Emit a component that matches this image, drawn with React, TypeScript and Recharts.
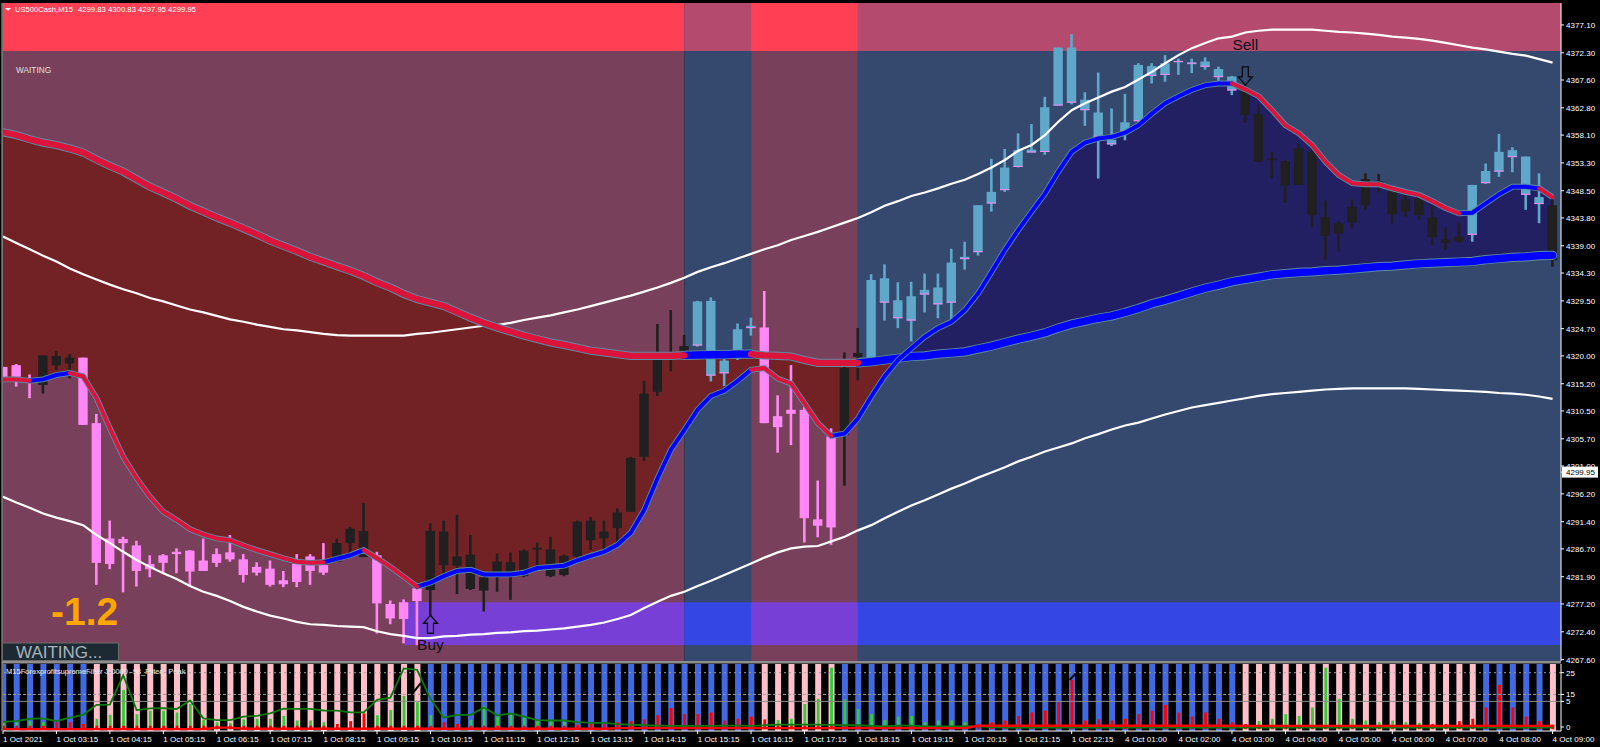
import React from 'react';
import { ComposedChart, Area, Bar, Line, XAxis, YAxis, ReferenceArea, ReferenceLine, ReferenceDot } from 'recharts';

const highs = [4318.1,4318.6,4316.8,4320.1,4320.8,4320.3,4319.7,4310.0,4291.6,4288.8,
4288.1,4285.6,4285.8,4286.8,4286.5,4288.5,4286.8,4289.1,4285.8,4284.4,
4284.7,4282.9,4285.8,4285.8,4287.7,4288.5,4290.5,4294.6,4286.2,4277.8,
4278.0,4280.1,4291.1,4291.6,4292.6,4289.1,4281.9,4285.9,4286.1,4286.6,
4287.8,4288.8,4285.7,4291.6,4292.2,4291.6,4293.7,4302.6,4315.7,4325.5,
4327.9,4323.6,4329.5,4330.1,4319.6,4325.6,4326.6,4331.2,4313.2,4318.4,
4311.2,4298.5,4307.5,4320.6,4324.8,4334.1,4335.8,4332.7,4332.8,4334.2,
4334.2,4338.5,4339.7,4346.0,4354.0,4355.7,4358.4,4360.0,4364.7,4373.2,
4375.5,4365.5,4368.9,4362.7,4365.2,4370.5,4370.5,4371.9,4371.3,4371.3,
4371.5,4369.9,4368.3,4366.7,4363.3,4355.2,4353.8,4356.7,4355.8,4346.8,
4343.3,4347.0,4351.5,4351.4,4349.3,4347.8,4348.1,4346.0,4342.2,4343.0,
4349.5,4353.2,4358.3,4356.0,4354.4,4351.5,4346.9];
const bodyTops = [4318.1,4318.4,4316.1,4320.1,4320.0,4319.7,4319.7,4308.4,4288.5,4288.4,
4287.3,4284.1,4285.6,4286.2,4286.4,4284.7,4285.8,4286.1,4284.9,4283.6,
4283.3,4281.3,4284.1,4285.4,4283.9,4287.7,4290.2,4289.8,4285.6,4277.2,
4277.5,4279.9,4289.8,4289.7,4285.4,4285.7,4281.8,4284.5,4284.4,4286.4,
4286.9,4286.6,4285.5,4291.4,4291.6,4289.7,4293.0,4302.4,4313.5,4320.4,
4320.5,4321.7,4329.4,4329.5,4319.2,4324.6,4325.2,4324.9,4309.6,4310.7,
4310.7,4291.8,4306.1,4317.9,4320.5,4333.1,4333.4,4329.6,4330.3,4331.4,
4331.8,4336.1,4337.1,4346.0,4348.3,4352.5,4355.5,4355.6,4362.9,4373.2,
4373.2,4364.2,4362.0,4357.3,4360.3,4370.2,4370.0,4370.5,4370.9,4370.6,
4370.8,4369.5,4368.2,4366.2,4361.7,4354.0,4353.6,4355.8,4355.2,4344.0,
4342.9,4345.7,4350.5,4350.1,4348.5,4347.0,4347.2,4343.9,4340.1,4340.6,
4349.5,4351.9,4355.2,4355.5,4354.4,4347.4,4346.0];
const bodyBottoms = [4316.3,4316.4,4315.8,4315.0,4318.4,4318.7,4308.1,4284.3,4284.1,4287.7,
4282.9,4283.2,4284.3,4285.8,4282.8,4282.9,4284.3,4284.9,4282.2,4282.6,
4280.5,4280.6,4281.0,4282.9,4282.6,4284.5,4287.7,4285.3,4277.3,4274.7,
4274.6,4277.7,4279.6,4283.9,4283.8,4279.8,4279.5,4281.9,4281.9,4282.0,
4286.6,4282.0,4282.2,4285.4,4288.2,4288.5,4290.3,4293.1,4302.6,4313.8,
4319.6,4320.9,4321.8,4316.6,4317.0,4319.6,4324.8,4308.4,4307.7,4310.0,
4292.0,4290.7,4290.4,4306.4,4319.8,4319.0,4329.2,4326.5,4326.1,4330.6,
4328.9,4329.2,4336.7,4337.9,4346.3,4348.6,4352.6,4355.1,4355.2,4363.2,
4363.7,4362.4,4357.8,4356.5,4358.7,4360.5,4368.3,4368.5,4370.8,4370.5,
4369.9,4368.1,4365.8,4361.6,4353.5,4353.8,4349.4,4349.5,4344.3,4340.7,
4341.1,4343.0,4346.0,4349.7,4344.4,4344.9,4344.3,4340.5,4339.5,4339.7,
4340.9,4349.8,4351.8,4354.3,4347.8,4346.2,4336.5];
const lows = [4316.3,4314.7,4312.7,4313.5,4317.6,4316.1,4308.1,4280.5,4283.2,4279.2,
4280.2,4281.8,4282.5,4282.5,4280.2,4282.9,4283.6,4284.5,4280.9,4282.1,
4280.2,4280.1,4280.1,4280.5,4282.2,4284.5,4285.9,4285.3,4272.1,4273.7,
4270.4,4270.1,4275.3,4282.2,4278.9,4279.6,4275.9,4279.3,4277.9,4281.8,
4283.6,4281.8,4282.0,4284.8,4286.5,4286.5,4287.7,4293.1,4301.9,4313.1,
4317.3,4320.4,4321.6,4315.6,4314.8,4319.3,4323.5,4308.4,4303.3,4304.6,
4287.8,4288.7,4287.4,4297.6,4315.8,4318.8,4326.1,4324.8,4322.5,4327.5,
4326.5,4326.2,4334.9,4337.3,4344.9,4348.3,4352.5,4355.1,4354.7,4363.2,
4363.4,4359.7,4350.6,4356.2,4357.2,4360.4,4367.0,4367.3,4368.5,4368.8,
4369.4,4367.3,4365.0,4360.2,4353.5,4350.6,4346.4,4349.5,4342.3,4336.5,
4338.0,4342.0,4345.3,4348.2,4342.9,4344.0,4343.5,4339.1,4338.4,4339.5,
4339.7,4349.7,4350.9,4351.7,4345.2,4342.9,4335.4];
const fastLine = [4315.95,4315.95,4315.7,4315.95,4316.7,4317.05,4316.5,4312.7,4307.5,4302.6,
4298.9,4295.7,4293.1,4291.7,4290.1,4289.2,4288.5,4288.2,4287.3,4286.5,
4285.8,4285.1,4284.5,4284.3,4284.4,4285.0,4285.6,4286.5,4285.1,4283.6,
4281.9,4280.2,4280.9,4282.0,4282.9,4283.1,4282.3,4282.3,4282.3,4282.6,
4283.4,4283.6,4283.8,4284.7,4285.5,4286.2,4287.4,4289.5,4293.4,4298.9,
4303.8,4307.2,4310.7,4313.1,4314.0,4315.7,4317.6,4317.9,4316.1,4315.2,
4311.8,4308.4,4306.2,4306.6,4309.2,4313.0,4316.5,4319.3,4321.3,4323.3,
4324.8,4325.9,4327.9,4330.8,4334.5,4338.3,4341.7,4344.9,4348.0,4351.8,
4355.2,4356.8,4357.5,4357.8,4358.5,4359.8,4361.8,4363.6,4364.8,4365.9,
4366.7,4367.0,4367.0,4366.0,4364.8,4362.4,4359.8,4358.4,4356.4,4353.5,
4351.2,4349.8,4349.6,4349.6,4348.9,4348.3,4347.8,4346.7,4345.5,4344.6,
4344.7,4346.3,4347.9,4349.2,4349.2,4348.9,4347.4];
const slowLine = [4358.6,4358.1,4357.4,4356.8,4356.4,4355.8,4355.1,4353.9,4352.8,4351.8,
4350.5,4349.2,4348.2,4347.1,4345.9,4344.9,4343.9,4343.0,4342.0,4341.0,
4339.9,4339.0,4338.1,4337.1,4336.3,4335.5,4334.7,4333.8,4332.7,4331.8,
4330.7,4329.8,4329.2,4328.6,4327.6,4326.6,4325.7,4324.9,4324.2,4323.5,
4322.9,4322.3,4321.9,4321.4,4320.9,4320.6,4320.3,4320.0,4320.0,4320.0,
4320.0,4320.1,4320.15,4320.2,4320.2,4320.3,4320.3,4320.1,4320.0,4319.9,
4319.3,4318.8,4318.8,4318.8,4318.8,4319.0,4319.3,4319.6,4319.9,4320.0,
4320.3,4320.5,4320.7,4321.2,4321.7,4322.3,4322.9,4323.4,4324.0,4324.8,
4325.5,4326.0,4326.5,4326.9,4327.5,4328.2,4329.0,4329.6,4330.3,4331.0,
4331.7,4332.2,4332.8,4333.2,4333.6,4334.0,4334.2,4334.4,4334.5,4334.7,
4334.8,4335.0,4335.2,4335.4,4335.5,4335.7,4335.9,4336.0,4336.1,4336.2,
4336.3,4336.6,4336.8,4337.0,4337.1,4337.3,4337.35];
const upperBand = [4340.6,4339.5,4338.4,4337.3,4336.3,4335.1,4334.1,4333.2,4332.3,4331.5,
4330.8,4330.0,4329.4,4328.7,4328.0,4327.5,4326.9,4326.3,4325.9,4325.4,
4325.0,4324.6,4324.4,4324.1,4323.8,4323.6,4323.5,4323.5,4323.5,4323.5,
4323.5,4323.8,4324.0,4324.3,4324.6,4324.9,4325.2,4325.3,4325.7,4326.2,
4326.6,4327.0,4327.5,4328.0,4328.6,4329.2,4329.8,4330.4,4331.1,4331.8,
4332.6,4333.5,4334.5,4335.3,4336.0,4336.8,4337.6,4338.4,4339.1,4340.0,
4340.7,4341.4,4342.2,4343.0,4343.8,4344.8,4345.9,4346.7,4347.6,4348.2,
4348.9,4349.7,4350.4,4351.4,4352.5,4353.8,4355.4,4356.4,4358.1,4360.4,
4362.4,4363.6,4364.6,4365.6,4366.4,4367.7,4369.0,4370.5,4371.9,4373.1,
4374.0,4374.8,4375.1,4375.8,4376.1,4376.3,4376.3,4376.3,4376.3,4376.1,
4375.9,4375.8,4375.6,4375.4,4375.1,4374.9,4374.7,4374.4,4374.0,4373.6,
4373.2,4372.9,4372.5,4372.1,4371.8,4371.2,4370.6];
const lowerBand = [4295.7,4294.7,4293.8,4292.8,4292.1,4291.5,4290.8,4289.1,4287.7,4286.2,
4284.8,4283.6,4282.5,4281.5,4280.3,4279.3,4278.6,4277.7,4276.7,4275.9,
4275.2,4274.7,4274.1,4273.7,4273.6,4273.4,4273.3,4273.2,4272.5,4272.0,
4271.7,4271.3,4271.3,4271.6,4271.7,4271.9,4272.0,4272.2,4272.3,4272.5,
4272.6,4272.8,4273.0,4273.3,4273.6,4274.0,4274.6,4275.3,4276.5,4277.6,
4278.6,4279.3,4280.3,4281.2,4282.2,4283.2,4284.2,4285.2,4286.1,4286.8,
4287.1,4287.2,4288.0,4288.8,4289.9,4290.8,4292.0,4293.1,4294.2,4295.1,
4296.1,4297.1,4298.0,4299.0,4299.9,4300.8,4301.8,4302.6,4303.5,4304.2,
4304.9,4305.8,4306.5,4307.3,4308.0,4308.5,4309.2,4309.9,4310.5,4311.1,
4311.5,4311.9,4312.3,4312.7,4313.1,4313.4,4313.6,4313.8,4314.0,4314.2,
4314.3,4314.4,4314.4,4314.4,4314.4,4314.4,4314.3,4314.2,4314.1,4314.0,
4313.9,4313.8,4313.6,4313.5,4313.3,4313.0,4312.6];

// [firstBar, lastBar] runs of each colour
const candlePinkRuns = [[0,2],[6,24],[28,31],[57,62]];
const candleBlueRuns = [[52,56],[65,92],[110,115]];
const fastRedRuns = [[0,2],[5,24],[27,31],[56,62],[92,109],[115,116]];
const fastBlueRuns = [[2,5],[24,27],[31,56],[62,92],[109,115]];
const slowRedRuns = [[0,51],[56,64]];
const slowBlueRuns = [[51,56],[64,116]];
const fillRedRun = [0, 67];
const fillBlueRun = [67, 116];
const subPinkRuns = [[7,31],[57,62],[93,110],[116,116]];

const zoneEdges = [0, 51, 56, 64, 116.63];
const zoneColors = ['#78405A', '#35496F', '#78405A', '#35496F'];
const topBandColors = ['#FF4054', '#B44A6E', '#FF4054', '#B44A6E'];
const bottomBandColors = ['#783FD6', '#3447E5', '#783FD6', '#3447E5'];
const topBand = [4372.6, 4380.89];
const bottomBand = [4270.1, 4277.5];
const bottomBandStart = 30.1;

const priceTicks = [4377.1,4372.3,4367.6,4362.8,4358.1,4353.3,4348.5,4343.8,4339.0,4334.3,4329.5,4324.7,4320.0,4315.2,4310.5,4305.7,4301.0,4296.2,4291.4,4286.7,4281.9,4277.2,4272.4,4267.6,4299.95];
const currentPrice = 4299.95;

const histGreen = [2.7,2.2,2.7,2.2,0,0,0,3.8,5.6,17.0,
5.9,7.5,7.5,6.7,10.6,3.2,2.2,1.9,3.5,3.8,
3.8,5.1,3.0,3.0,2.2,0,0,0,5.4,7.8,
14.3,11.4,5.4,0,0,3.2,9.8,4.8,5.9,4.8,
2.7,2.7,2.4,0,0,0,0,0,0,0,
0,0,0,0,0,0,0,0,3.2,3.8,
10.6,13.0,27.3,12.7,8.3,5.9,3.2,4.8,5.1,2.2,
3.0,3.0,2.2,0,0,0,0,0,0,0,
0,0,0,0,0,0,0,0,0,0,
0,0,0,0,2.7,3.8,5.9,5.1,9.0,27.3,
13.0,3.8,3.0,2.2,3.0,2.2,1.9,0,0,0,
0,0,0,0,0,0,0];
const histRed = [0.6,0.6,0.6,0.6,2.2,2.2,1.4,0.6,0.6,0.6,
0.6,0.6,0.6,0.6,0.6,0.6,0.6,0.6,0.6,0.6,
0.6,0.6,0.6,0.6,0.6,1.4,2.7,6.3,0.6,0.6,
0.6,0.6,0.6,2.2,1.4,0.6,0.6,0.6,0.6,0.6,
0.6,0.6,0.6,1.1,1.4,1.4,2.2,2.7,3.5,5.4,
8.7,5.9,5.9,6.7,3.0,3.8,4.8,3.5,0.6,0.6,
0.6,0.6,0.6,0.6,0.6,0.6,0.6,0.6,0.6,0.6,
0.6,0.6,0.6,1.4,2.2,3.0,5.1,6.7,7.5,11.4,
21.7,3.0,3.5,3.0,3.8,5.9,7.5,10.2,6.7,4.8,
6.7,3.8,2.2,1.4,0.6,0.6,0.6,0.6,0.6,0.6,
0.6,0.6,0.6,0.6,0.6,0.6,0.6,1.4,1.4,2.7,
3.8,9.0,19.4,9.0,4.8,2.7,1.1];
const signalLine = [2.4,2.7,3.8,4.0,2.7,4.3,5.6,10.2,10.3,23.8,
7.8,8.6,8.7,8.3,12.2,4.0,3.2,3.2,4.8,5.1,
6.3,8.4,8.3,8.3,7.6,7.5,6.7,6.7,12.5,13.5,
27.0,26.3,13.0,4.3,5.6,5.6,9.0,5.4,6.2,4.8,
3.2,3.0,3.0,2.2,1.9,1.9,1.3,1.1,0.8,0.6,
0.5,0.5,0.5,0.5,0.6,0.6,0.5,0.8,1.1,1.1,
1.1,1.1,1.0,0.8,0.8,0.5,0.3,0.6,0.6,0.3,
0.3,0.3,0.3,0.3,0,-0.3,-0.3,-0.3,-0.3,-0.3,
-0.3,-0.3,-0.3,-0.3,-0.3,-0.3,-0.3,-0.3,-0.3,-0.3,
-0.3,-0.3,-0.3,-0.3,-0.3,-0.3,-0.3,-0.3,-0.3,-0.3,
-0.3,-0.3,-0.3,-0.3,-0.3,-0.3,-0.3,-0.3,-0.3,-0.3,
-0.3,-0.3,-0.3,-0.3,-0.3,-0.3,-0.3];
const baseLine = [-1,-1,-1,-1,-1,-1,-1,-1,-1,-1,-1,-1,-1,-1,-1,-1,-0.3,-0.3,-0.8,-0.8,
-0.8,-0.8,-0.8,-0.8,-0.8,-0.8,-0.8,-0.8,-0.8,-0.8,-0.8,-0.8,-0.8,-0.8,-0.8,-0.8,-0.8,-0.8,-0.8,-0.8,
-0.8,-0.8,-0.8,-0.8,-0.8,-0.8,-0.5,-0.5,-0.5,-0.5,-0.5,-0.5,-0.5,-0.5,-0.5,-0.5,-0.5,-0.5,-0.5,-0.5,
-0.5,-0.5,-0.5,-0.5,-0.5,-0.5,-0.5,-0.5,-0.5,-0.5,-0.5,-0.5,-0.5,0.6,0.6,0.6,0.6,0.6,0.6,0.6,
0.6,0.6,0.6,0.6,0.6,0.6,0.6,0.6,0.6,0.6,0.6,0.6,0.6,0.5,0.5,0.5,0.5,0.5,0.5,0.5,
0.5,0.5,0.5,0.5,0.5,0.5,0.5,0.5,0.5,0.5,0.5,0.5,0.5,0.5,0.5,0.5,0.5];

const subTickValues = [25, 15, 11.8, 0];
const subTickLabels = ['25', '15', '5', '0'];
const timeLabels = ['1 Oct 2021','1 Oct 03:15','1 Oct 04:15','1 Oct 05:15','1 Oct 06:15','1 Oct 07:15','1 Oct 08:15','1 Oct 09:15','1 Oct 10:15','1 Oct 11:15','1 Oct 12:15','1 Oct 13:15','1 Oct 14:15','1 Oct 15:15','1 Oct 16:15','1 Oct 17:15','1 Oct 18:15','1 Oct 19:15','1 Oct 20:15','1 Oct 21:15','1 Oct 22:15','4 Oct 01:00','4 Oct 02:00','4 Oct 03:00','4 Oct 04:00','4 Oct 05:00','4 Oct 06:00','4 Oct 07:00','4 Oct 08:00','4 Oct 09:00'];
const timeTicks = timeLabels.map((_, k) => k * 4);

const X_DOMAIN: [number, number] = [0, 116.63];
const SUB_TOP = 29;
const HIST_BASE = -1;
const FONT = '"Liberation Sans", Arial, sans-serif';

const inRuns = (runs: number[][], i: number) => runs.some(([a, b]) => i >= a && i <= b);

const mainData = highs.map((h, i) => ({
  i,
  high: h,
  bodyTop: bodyTops[i],
  bodyBottom: bodyBottoms[i],
  low: lows[i],
  kind: inRuns(candlePinkRuns, i) ? 'pink' : inRuns(candleBlueRuns, i) ? 'blue' : 'black',
  fast: fastLine[i],
  slow: slowLine[i],
  fastRed: inRuns(fastRedRuns, i) ? fastLine[i] : null,
  fastBlue: inRuns(fastBlueRuns, i) ? fastLine[i] : null,
  slowRed: inRuns(slowRedRuns, i) ? slowLine[i] : null,
  slowBlue: inRuns(slowBlueRuns, i) ? slowLine[i] : null,
  fillRed: inRuns([fillRedRun], i) ? [fastLine[i], slowLine[i]] : null,
  fillBlue: inRuns([fillBlueRun], i) ? [slowLine[i], fastLine[i]] : null,
  upper: upperBand[i],
  lower: lowerBand[i],
}));

const subData = histGreen.map((g, i) => ({
  i,
  bg: [HIST_BASE - 1, SUB_TOP],
  pink: inRuns(subPinkRuns, i),
  green: g > 0 ? [HIST_BASE, g] : null,
  red: [HIST_BASE, histRed[i]],
  signal: signalLine[i],
  base: baseLine[i],
}));

const CANDLE_FILL: Record<string, string> = { pink: '#FF88F6', blue: '#60A8C9', black: '#202020' };

function Candle(props: any) {
  const { x, y, width, height, payload } = props;
  if (!payload || !height) return null;
  const ratio = height / (payload.high - payload.low);
  const cx = x + width / 2;
  const top = y + (payload.high - payload.bodyTop) * ratio;
  const bottom = y + (payload.high - payload.bodyBottom) * ratio;
  const fill = CANDLE_FILL[payload.kind];
  return (
    <g>
      <rect x={cx - 1.3} y={y} width={2.6} height={height} fill={fill} />
      <rect x={x - 0.2} y={top} width={width + 0.4} height={Math.max(bottom - top, 1.5)} fill={fill} />
      {payload.kind === 'blue' && <rect x={x - 0.2} y={Math.max(bottom - 1, top)} width={width + 0.4} height={1} fill="#FF88F6" />}
    </g>
  );
}

function SubBackground(props: any) {
  const { x, y, width, height, payload } = props;
  return <rect x={x} y={y} width={width} height={height} fill={payload.pink ? '#FFC0CB' : '#4169E1'} />;
}
function Thin(fill: string) {
  return (props: any) => {
    const { x, y, width, height } = props;
    if (!height) return null;
    return <rect x={x + width / 2 - 1.4} y={y} width={2.8} height={height} fill={fill} />;
  };
}

function PriceTick(props: any) {
  const { x, y, payload } = props;
  if (payload.value === currentPrice) {
    return (
      <g>
        <rect x={x - 4} y={y - 5.5} width={36} height={11} fill="#fff" />
        <text x={x} y={y + 3} fontSize={8} fontFamily={FONT} fill="#000">{payload.value.toFixed(2)}</text>
      </g>
    );
  }
  return <text x={x} y={y + 3} fontSize={8} fontFamily={FONT} fill="#fff" letterSpacing={0.05}>{payload.value.toFixed(2)}</text>;
}
function SubTick(props: any) {
  const { x, y, payload } = props;
  const label = subTickLabels[subTickValues.indexOf(payload.value)];
  return <text x={x} y={y + 3} fontSize={8} fontFamily={FONT} fill="#fff">{label}</text>;
}
function TimeTick(props: any) {
  const { x, y, payload } = props;
  const label = timeLabels[timeTicks.indexOf(payload.value)];
  return <text x={x} y={y + 8} fontSize={8} fontFamily={FONT} fill="#fff" letterSpacing={0.05}>{label}</text>;
}

function arrowShape(dir: 'up' | 'down') {
  return (p: any) => {
    const { cx, cy } = p;
    const s = dir === 'up' ? 1 : -1;
    const pts = [[0,-9],[7,-1],[3,-1],[3,9],[-3,9],[-3,-1],[-7,-1]]
      .map(([a, b]) => `${cx + a},${cy + s * b}`).join(' ');
    return <polygon points={pts} fill="none" stroke="#0A0A14" strokeWidth={1.3} />;
  };
}
function textShape(label: string) {
  return (p: any) => (
    <text x={p.cx} y={p.cy + 5} textAnchor="middle" fontSize={15.5} fontFamily={FONT} fill="#101018">{label}</text>
  );
}

const zones = zoneColors.map((c, k) => ({ from: zoneEdges[k], to: zoneEdges[k + 1], c, top: topBandColors[k], bottom: bottomBandColors[k] }));

const lineCommon = { dot: false, activeDot: false, isAnimationActive: false, type: 'linear' as const, connectNulls: false };

export default function App() {
  return (
    <div style={{ position: 'absolute', left: 0, top: 0, width: 1600, height: 747, background: '#000', overflow: 'hidden' }}>
      <div style={{ position: 'absolute', left: 0, top: 0 }}>
        <ComposedChart width={1600} height={680} data={mainData} margin={{ top: 3, right: 0, bottom: 19, left: 3 }} barGap={0}>
          <XAxis type="number" dataKey="i" domain={X_DOMAIN} allowDataOverflow hide />
          <YAxis orientation="right" width={39} type="number" domain={[4267.36, 4380.89]} allowDataOverflow ticks={priceTicks} interval={0}
            tick={<PriceTick />} tickSize={3} tickMargin={2} stroke="#fff" tickLine={{ stroke: '#fff' }} axisLine={{ stroke: '#fff' }} />
          {zones.map((z, k) => (
            <ReferenceArea key={`z${k}`} x1={z.from} x2={z.to} fill={z.c} fillOpacity={1} stroke="none" ifOverflow="hidden" />
          ))}
          {zones.map((z, k) => (
            <ReferenceArea key={`t${k}`} x1={z.from} x2={z.to} y1={topBand[0]} y2={topBand[1]} fill={z.top} fillOpacity={1} stroke="none" ifOverflow="hidden" />
          ))}
          {zones.map((z, k) => (
            <ReferenceArea key={`b${k}`} x1={Math.max(z.from, bottomBandStart)} x2={z.to} y1={bottomBand[0]} y2={bottomBand[1]} fill={z.bottom} fillOpacity={1} stroke="none" ifOverflow="hidden" />
          ))}
          <Area dataKey="fillRed" type="linear" stroke="none" fill="#722224" fillOpacity={1} isAnimationActive={false} dot={false} activeDot={false} connectNulls={false} />
          <Area dataKey="fillBlue" type="linear" stroke="none" fill="#231F63" fillOpacity={1} isAnimationActive={false} dot={false} activeDot={false} connectNulls={false} />
          <Bar dataKey={(d: any) => [d.low, d.high]} barSize={9} shape={<Candle />} isAnimationActive={false} />
          <Line dataKey="upper" stroke="#fff" strokeWidth={2.2} {...lineCommon} />
          <Line dataKey="lower" stroke="#fff" strokeWidth={2.2} {...lineCommon} />
          <Line dataKey="slowRed" stroke="#5A8CA4" strokeWidth={8.2} strokeLinecap="round" {...lineCommon} />
          <Line dataKey="slowBlue" stroke="#5A8CA4" strokeWidth={9.2} strokeLinecap="round" {...lineCommon} />
          <Line dataKey="slowBlue" stroke="#0000FF" strokeWidth={7.4} strokeLinecap="round" {...lineCommon} />
          <Line dataKey="slowRed" stroke="#DC143C" strokeWidth={6.2} strokeLinecap="round" {...lineCommon} />
          <Line dataKey="fast" stroke="#5A8CA4" strokeWidth={5.8} {...lineCommon} />
          <Line dataKey="fastBlue" stroke="#0000FF" strokeWidth={4} strokeLinecap="round" {...lineCommon} />
          <Line dataKey="fastRed" stroke="#DC143C" strokeWidth={4} strokeLinecap="round" {...lineCommon} />
          <ReferenceDot x={32} y={4273.7} r={1} shape={arrowShape('up')} ifOverflow="visible" />
          <ReferenceDot x={93} y={4368.3} r={1} shape={arrowShape('down')} ifOverflow="visible" />
          <ReferenceDot x={32} y={4270.2} r={1} shape={textShape('Buy')} ifOverflow="visible" />
          <ReferenceDot x={93} y={4373.6} r={1} shape={textShape('Sell')} ifOverflow="visible" />
        </ComposedChart>
      </div>
      <div style={{ position: 'absolute', left: 0, top: 662 }}>
        <ComposedChart width={1600} height={85} data={subData} margin={{ top: 2, right: 0, bottom: 0, left: 3 }} barGap={-6}>
          <XAxis type="number" dataKey="i" domain={X_DOMAIN} allowDataOverflow ticks={timeTicks} interval={0} height={16}
            tick={<TimeTick />} tickSize={3} tickMargin={0} stroke="#fff" tickLine={{ stroke: '#fff' }} axisLine={{ stroke: '#fff' }} />
          <YAxis orientation="right" width={39} type="number" domain={[-1.84, SUB_TOP]} allowDataOverflow ticks={subTickValues} interval={0}
            tick={<SubTick />} tickSize={3} tickMargin={2} stroke="#fff" tickLine={{ stroke: '#fff' }} axisLine={{ stroke: '#fff' }} />
          <Bar dataKey="bg" barSize={6} shape={<SubBackground />} isAnimationActive={false} />
          <Bar dataKey="green" barSize={6} shape={Thin('#32CD32')} isAnimationActive={false} />
          <Bar dataKey="red" barSize={6} shape={Thin('#FF0000')} isAnimationActive={false} />
          <ReferenceLine y={25} stroke="#9a9a9a" strokeDasharray="2 3" strokeWidth={1} />
          <ReferenceLine y={15} stroke="#9a9a9a" strokeDasharray="3 2" strokeWidth={1} />
          <ReferenceLine y={11.8} stroke="#8c8c8c" strokeWidth={1} />
          <ReferenceLine segment={[{ x: 30.75, y: 16.2 }, { x: 31.27, y: 20.2 }]} stroke="#000" strokeWidth={2} />
          <ReferenceLine segment={[{ x: 79.85, y: 21.7 }, { x: 80.3, y: 24.6 }]} stroke="#000" strokeWidth={2} />
          <Line dataKey="signal" stroke="#0B7A0B" strokeWidth={1.8} {...lineCommon} />
          <Line dataKey="base" stroke="#FF0000" strokeWidth={2.4} {...lineCommon} />
        </ComposedChart>
      </div>
      <svg width={1600} height={747} style={{ position: 'absolute', left: 0, top: 0, pointerEvents: 'none' }}>
        <rect x={0} y={0} width={1600} height={3} fill="#000" />
        <rect x={1.5} y={3} width={1.2} height={728} fill="#a8a8a8" />
        <rect x={2} y={661} width={1559} height={2.5} fill="#8e8e8e" />
        <polygon points="5,8 11,8 8,11" fill="#fff" />
        <text x={15} y={12} fontSize={8} textLength={58} lengthAdjust="spacingAndGlyphs" fontFamily={FONT} fill="#fff">US500Cash,M15</text>
        <text x={78} y={12} fontSize={8} textLength={118} lengthAdjust="spacingAndGlyphs" fontFamily={FONT} fill="#fff">4299.83 4300.83 4297.95 4299.95</text>
        <text x={16} y={73} fontSize={8.3} fontFamily={FONT} fill="#e0e0e0">WAITING</text>
        <text x={51} y={625} fontSize={39} fontWeight="bold" fontFamily={FONT} fill="#FFA500">-1.2</text>
        <rect x={2.5} y={643} width={116} height={17.5} fill="#1E2A33" stroke="#6b6b6b" strokeWidth={1} />
        <text x={16} y={658} fontSize={17} fontFamily={FONT} fill="#A9B4BC">WAITING...</text>
        <text x={6} y={674} fontSize={8} textLength={179.5} lengthAdjust="spacingAndGlyphs" fontFamily={FONT} fill="#e8e8e8">M15ForexprofitsupremeFilter 1.0000 -98_Filter_ Peak</text>
      </svg>
    </div>
  );
}
